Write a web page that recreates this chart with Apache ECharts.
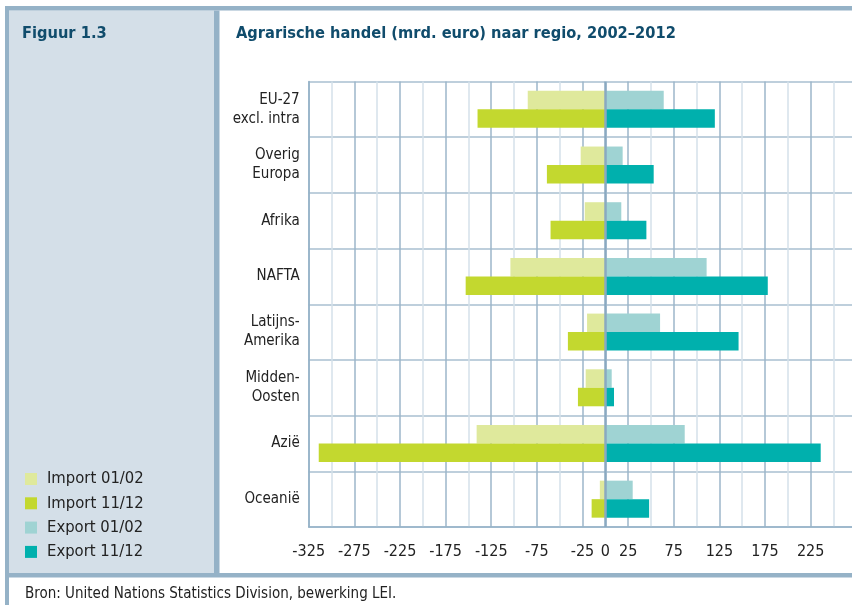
<!DOCTYPE html>
<html>
<head>
<meta charset="utf-8">
<script src="https://cdn.jsdelivr.net/npm/echarts@6/dist/echarts.min.js"></script>
<style>
html,body{margin:0;padding:0;background:#fff;overflow:hidden;width:852px;height:605px;}
#c{width:860px;height:605px;}
</style>
</head>
<body>
<div id="c"></div>
<script>
var categories = ['EU-27\nexcl. intra', 'Overig\nEuropa', 'Afrika', 'NAFTA', 'Latijns-\nAmerika', 'Midden-\nOosten', 'Azië', 'Oceanië'];
var import0102 = [-85, -27, -22.5, -104, -20, -21.5, -141, -6];
var import1112 = [-140, -64, -60, -153, -41, -30, -314, -15];
var export0102 = [64, 19, 17.5, 111, 60, 7, 87, 30];
var export1112 = [120, 53, 45, 178, 146, 9.5, 236, 48];
var xTickLabels = [-325, -275, -225, -175, -125, -75, -25, 0, 25, 75, 125, 175, 225];

var FONT = "'Liberation Sans Narrow', 'Arial Narrow', 'DejaVu Sans Condensed', sans-serif";
var BORDER = '#95b2c7';
var TITLE = '#104c6c';

var chart = echarts.init(document.getElementById('c'), null, {renderer: 'canvas'});
var option = {
  animation: false,
  textStyle: {fontFamily: FONT},
  graphic: [
    {type: 'rect', shape: {x: 9, y: 10.5, width: 205, height: 562.5}, style: {fill: '#d4dfe8'}, z: -10},
    {type: 'rect', shape: {x: 5, y: 6, width: 855, height: 4.5}, style: {fill: BORDER}, z: -5},
    {type: 'rect', shape: {x: 5, y: 6, width: 4, height: 599}, style: {fill: BORDER}, z: -5},
    {type: 'rect', shape: {x: 214, y: 10.5, width: 5.5, height: 562.5}, style: {fill: BORDER}, z: -5},
    {type: 'rect', shape: {x: 5, y: 573, width: 855, height: 4.5}, style: {fill: BORDER}, z: -5},
    {type: 'text', left: 22, top: 26, style: {text: 'Figuur 1.3', fill: TITLE, font: 'bold 16.3px ' + FONT}},
    {type: 'text', left: 236, top: 26, style: {text: 'Agrarische handel (mrd. euro) naar regio, 2002–2012', fill: TITLE, font: 'bold 16.3px ' + FONT}},
    {type: 'text', left: 25, top: 587, style: {text: 'Bron: United Nations Statistics Division, bewerking LEI.', fill: '#222', font: '15px ' + FONT}}
  ],
  legend: {
    orient: 'vertical',
    left: 25,
    top: 470,
    padding: 0,
    itemWidth: 12,
    itemHeight: 12,
    itemGap: 6.3,
    icon: 'rect',
    data: ['Import 01/02', 'Import 11/12', 'Export 01/02', 'Export 11/12'],
    textStyle: {fontSize: 16.5, color: '#222', fontFamily: FONT, lineHeight: 18, padding: [0, 0, 0, 5]}
  },
  grid: {left: 308.7, top: 81.5, bottom: 78, right: 3.7, containLabel: false},
  xAxis: {
    type: 'value',
    min: -325,
    max: 275,
    interval: 25,
    axisLine: {show: true, lineStyle: {color: BORDER, width: 1.5}},
    axisTick: {show: false},
    axisLabel: {
      interval: 0,
      margin: 17,
      fontSize: 16,
      color: '#222',
      fontFamily: FONT,
      formatter: function (v) { return xTickLabels.indexOf(v) >= 0 ? String(v) : ''; }
    },
    splitLine: {show: true, lineStyle: {color: ['#9db6ca', '#d5e0ea'], width: 1.5}}
  },
  yAxis: {
    type: 'category',
    inverse: true,
    data: categories,
    axisLine: {show: true, onZero: false, lineStyle: {color: BORDER, width: 1.5}},
    axisTick: {show: false},
    axisLabel: {fontSize: 15, color: '#222', fontFamily: FONT, lineHeight: 19, margin: 9, align: 'right'},
    splitLine: {show: true, lineStyle: {color: '#a9bfd0', width: 1.5}}
  },
  series: [
    {name: 'Import 01/02', type: 'bar', stack: 'a', data: import0102, barWidth: 18.5, barGap: '0%', itemStyle: {color: '#dfe99c'}},
    {name: 'Import 11/12', type: 'bar', stack: 'b', data: import1112, barWidth: 18.5, barGap: '0%', itemStyle: {color: '#c3d82f'}},
    {name: 'Export 01/02', type: 'bar', stack: 'a', data: export0102, barWidth: 18.5, barGap: '0%', itemStyle: {color: '#9fd3d3'}},
    {name: 'Export 11/12', type: 'bar', stack: 'b', data: export1112, barWidth: 18.5, barGap: '0%', itemStyle: {color: '#00b0ad'},
      markLine: {silent: true, symbol: 'none', label: {show: false}, lineStyle: {color: '#8aa9c1', width: 2.5, type: 'solid'}, data: [{xAxis: 0}]}}
  ]
};
chart.setOption(option);
</script>
</body>
</html>
